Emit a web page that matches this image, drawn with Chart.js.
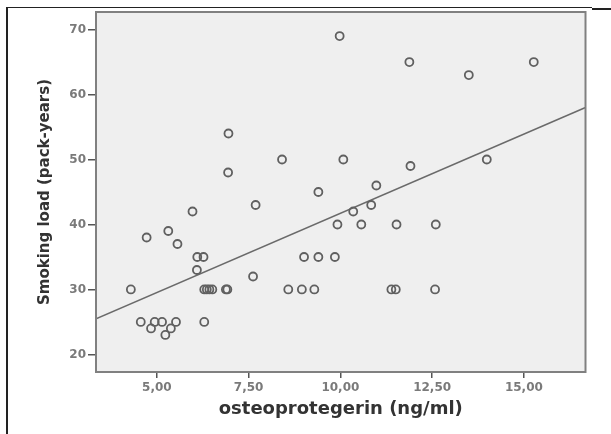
<!DOCTYPE html>
<html>
<head>
<meta charset="utf-8">
<script src="https://cdn.jsdelivr.net/npm/chart.js@4/dist/chart.umd.min.js"></script>
<style>
  body { margin: 0; background: #fff; }
  #wrap { position: relative; width: 611px; height: 434px; }
  .rule { position: absolute; background: #222; }
</style>
</head>
<body>
<div id="wrap">
  <canvas id="chart"></canvas>
  <div class="rule" style="left:6px; top:7px; width:2px; height:427px;"></div>
  <div class="rule" style="left:7px; top:7px; width:585px; height:1px;"></div>
  <div class="rule" style="left:592px; top:8px; width:19px; height:2px;"></div>
</div>
<script>
// osteoprotegerin (ng/ml) against smoking load
const opg = [4.29, 4.56, 4.84, 4.94, 5.14, 5.23, 5.38, 5.52, 4.72, 5.31, 5.56, 5.97,
             6.10, 6.27, 6.09, 6.29, 6.29, 6.36, 6.43, 6.51, 6.88, 6.92, 6.95, 6.94,
             7.62, 7.69, 8.41, 8.58, 8.95, 9.29, 9.01, 9.40, 9.85, 9.40, 9.92, 9.98,
             10.08, 10.35, 10.57, 10.84, 10.98, 11.39, 11.51, 11.53, 11.88, 11.91,
             12.58, 12.60, 13.50, 13.99, 15.27];
const packYears = [30, 25, 24, 25, 25, 23, 24, 25, 38, 39, 37, 42,
                   35, 35, 33, 25, 30, 30, 30, 30, 30, 30, 54, 48,
                   32, 43, 50, 30, 30, 30, 35, 35, 35, 45, 40, 69,
                   50, 42, 40, 43, 46, 30, 30, 40, 65, 49,
                   30, 40, 63, 50, 65];

// fit line, ends at the axis limits
const fitX = [3.34, 16.68];
const fitY = [25.5, 58.0];

const xTicks = [5, 7.5, 10, 12.5, 15];
const yTicks = [20, 30, 40, 50, 60, 70];

const points = opg.map((v, i) => ({ x: v, y: packYears[i] }));
const fit = fitX.map((v, i) => ({ x: v, y: fitY[i] }));

// grey plot box behind and frame on top
const plotBox = {
  id: 'plotBox',
  beforeDatasetsDraw(chart) {
    const a = chart.chartArea, ctx = chart.ctx;
    ctx.save();
    ctx.fillStyle = '#efefef';
    ctx.fillRect(a.left, a.top, a.right - a.left, a.bottom - a.top);
    ctx.restore();
  },
  afterDatasetsDraw(chart) {
    const a = chart.chartArea, ctx = chart.ctx;
    ctx.save();
    ctx.strokeStyle = '#808080';
    ctx.lineWidth = 2;
    ctx.strokeRect(a.left, a.top, a.right - a.left, a.bottom - a.top);
    ctx.restore();
  }
};

const tickFont = { family: 'DejaVu Sans', size: 12, weight: 'bold' };

new Chart(document.getElementById('chart'), {
  type: 'scatter',
  data: {
    datasets: [{
      data: points,
      pointRadius: 4,
      pointBorderWidth: 1.8,
      borderColor: '#606060',
      backgroundColor: 'rgba(0,0,0,0)'
    }, {
      type: 'line',
      data: fit,
      borderColor: '#6a6a6a',
      borderWidth: 1.5,
      pointRadius: 0,
      fill: false
    }]
  },
  plugins: [plotBox],
  options: {
    responsive: true,
    maintainAspectRatio: false,
    animation: false,
    layout: { padding: { top: 12, right: 25.5, left: 0, bottom: 0 } },
    plugins: { legend: { display: false }, tooltip: { enabled: false } },
    scales: {
      x: {
        type: 'linear',
        min: 3.34,
        max: 16.68,
        afterBuildTicks: (s) => { s.ticks = xTicks.map(v => ({ value: v })); },
        afterFit: (s) => { s.height = 62; },
        border: { display: false },
        grid: { drawOnChartArea: false, drawTicks: true, tickLength: 6, color: '#555', lineWidth: 1.5 },
        ticks: {
          font: tickFont, color: '#7a7a7a', padding: 3, maxRotation: 0,
          callback: (v) => v.toFixed(2).replace('.', ',')
        },
        title: {
          display: true, text: 'osteoprotegerin (ng/ml)', color: '#333',
          font: { family: 'DejaVu Sans', size: 18, weight: 'bold' },
          padding: { top: 0, bottom: 14 }
        }
      },
      y: {
        type: 'linear',
        min: 17.3,
        max: 72.7,
        afterBuildTicks: (s) => { s.ticks = yTicks.map(v => ({ value: v })); },
        afterFit: (s) => { s.width = 96; },
        border: { display: false },
        grid: { drawOnChartArea: false, drawTicks: true, tickLength: 8, color: '#555', lineWidth: 1.5 },
        ticks: { font: tickFont, color: '#7a7a7a', padding: 2 },
        title: {
          display: true, text: 'Smoking load (pack-years)', color: '#333',
          font: { family: 'DejaVu Sans', size: 15, weight: 'bold' },
          padding: { top: 36, bottom: 0 }
        }
      }
    }
  }
});
</script>
</body>
</html>
